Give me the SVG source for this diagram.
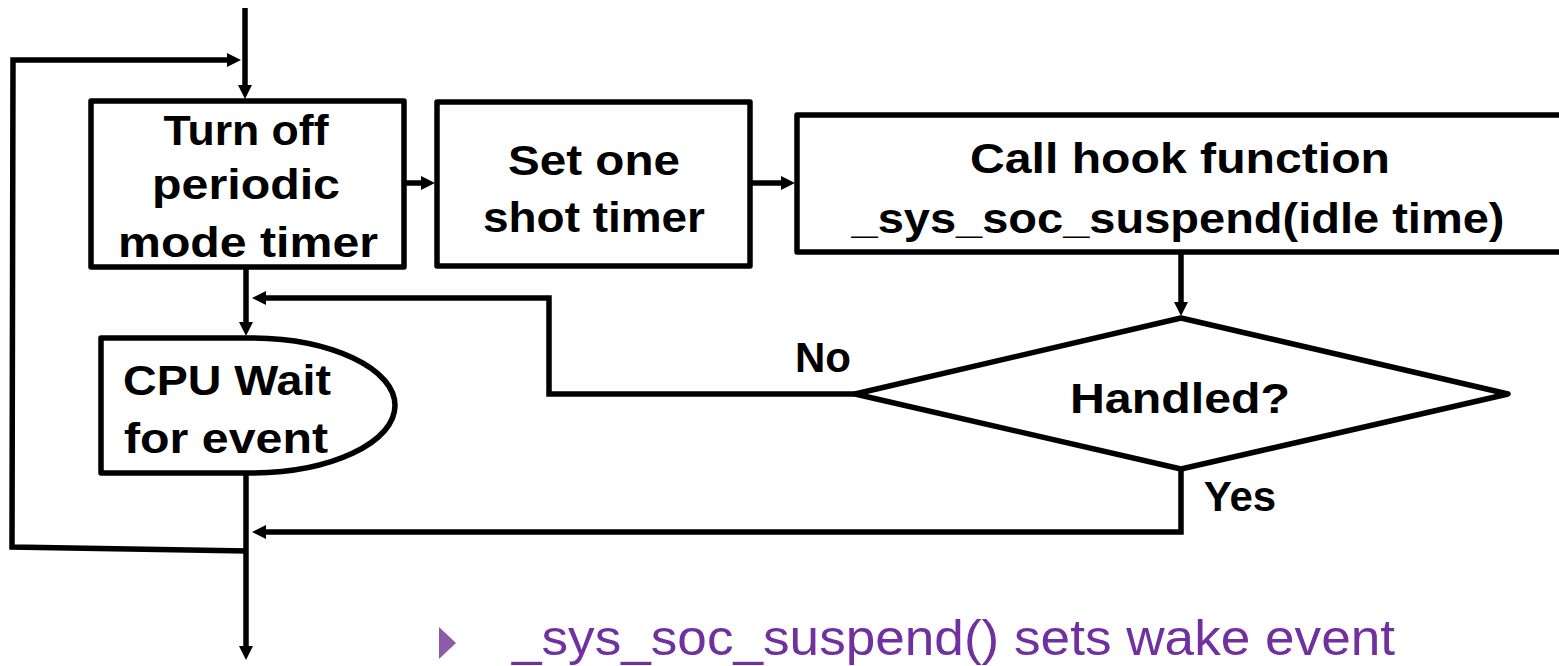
<svg xmlns="http://www.w3.org/2000/svg" width="1559" height="666" viewBox="0 0 1559 666">
  <style>
    .shape { fill: #ffffff; stroke: #000000; stroke-width: 5.5; stroke-linejoin: round; }
    .wire { fill: none; stroke: #000000; stroke-width: 5.5; stroke-linejoin: miter; }
    .lbl { font-family: "Liberation Sans", Arial, sans-serif; font-weight: bold; font-size: 42px; fill: #000000; text-anchor: middle; }
    .note { font-family: "Liberation Sans", Arial, sans-serif; font-size: 50px; fill: #7030A0; }
  </style>
  <defs>
    <marker id="arrow" markerUnits="userSpaceOnUse" markerWidth="16" markerHeight="15" refX="4" refY="7" orient="auto">
      <path d="M0,0 L14,7 L0,14 Z" fill="#000000"/>
    </marker>
  </defs>

  <rect width="1559" height="666" fill="#ffffff"/>

  <!-- connectors -->
  <g id="connectors">
    <line class="wire" x1="245" y1="8" x2="245" y2="89" marker-end="url(#arrow)"/>
    <polyline class="wire" points="248,551 12,547 13,60 231,60" marker-end="url(#arrow)"/>
    <line class="wire" x1="404" y1="183" x2="425" y2="183" marker-end="url(#arrow)"/>
    <line class="wire" x1="750" y1="183" x2="785" y2="183" marker-end="url(#arrow)"/>
    <line class="wire" x1="1181" y1="252" x2="1181" y2="306" marker-end="url(#arrow)"/>
    <line class="wire" x1="246" y1="267" x2="246" y2="326" marker-end="url(#arrow)"/>
    <polyline class="wire" points="855,394 549,394 549,298 262,298" marker-end="url(#arrow)"/>
    <polyline class="wire" points="1181,468 1181,532 262,532" marker-end="url(#arrow)"/>
    <line class="wire" x1="246" y1="473" x2="246" y2="650" marker-end="url(#arrow)"/>
    <text class="lbl" x="823" y="372">No</text>
    <text class="lbl" x="1240" y="511">Yes</text>
  </g>

  <g id="turn-off-timer">
    <rect class="shape" x="91" y="101" width="313" height="166"/>
    <text class="lbl" x="246" y="145" textLength="165" lengthAdjust="spacingAndGlyphs">Turn off</text>
    <text class="lbl" x="246" y="199" textLength="188" lengthAdjust="spacingAndGlyphs">periodic</text>
    <text class="lbl" x="248" y="257" textLength="260" lengthAdjust="spacingAndGlyphs">mode timer</text>
  </g>

  <g id="one-shot-timer">
    <rect class="shape" x="437" y="102" width="313" height="164"/>
    <text class="lbl" x="594" y="175" textLength="172" lengthAdjust="spacingAndGlyphs">Set one</text>
    <text class="lbl" x="594" y="232" textLength="222" lengthAdjust="spacingAndGlyphs">shot timer</text>
  </g>

  <g id="hook-call">
    <rect class="shape" x="797" y="115" width="790" height="137"/>
    <text class="lbl" x="1180" y="173" textLength="420" lengthAdjust="spacingAndGlyphs">Call hook function</text>
    <text class="lbl" x="1178" y="233" textLength="653" lengthAdjust="spacingAndGlyphs">_sys_soc_suspend(idle time)</text>
  </g>

  <g id="handled-check">
    <polygon class="shape" points="1181,318 1508,394 1181,469 855,394"/>
    <text class="lbl" x="1180" y="413" textLength="220" lengthAdjust="spacingAndGlyphs">Handled?</text>
  </g>

  <g id="cpu-wait">
    <path class="shape" d="M101,338 H250 A145,67.5 0 0 1 250,473 H101 Z"/>
    <text class="lbl" x="227" y="395" textLength="208" lengthAdjust="spacingAndGlyphs">CPU Wait</text>
    <text class="lbl" x="226" y="453" textLength="204" lengthAdjust="spacingAndGlyphs">for event</text>
  </g>

  <g id="note">
    <polygon points="439,627 456,643 439,659" fill="#8E5BA8"/>
    <text class="note" x="512" y="655" textLength="883" lengthAdjust="spacingAndGlyphs">_sys_soc_suspend() sets wake event</text>
  </g>
</svg>
